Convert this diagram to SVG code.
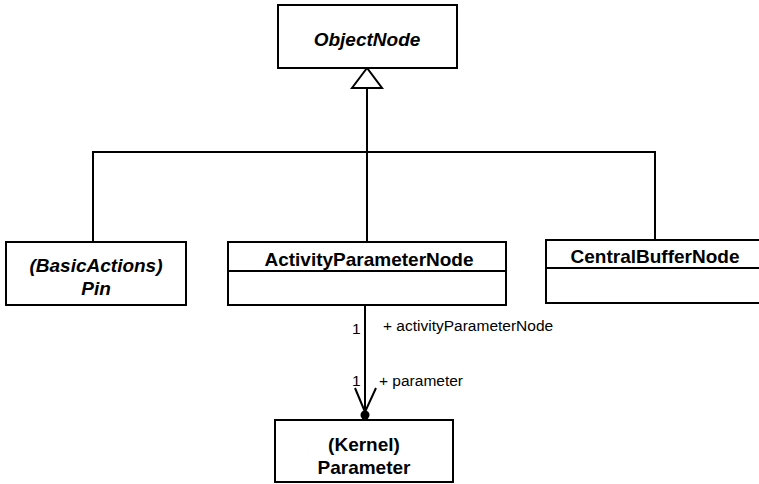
<svg xmlns="http://www.w3.org/2000/svg" width="759" height="484" viewBox="0 0 759 484">
<style>
.box{fill:#fff;stroke:#000;stroke-width:2}
.ln{fill:none;stroke:#000;stroke-width:2}
.t{font-family:"Liberation Sans",Arial,sans-serif;font-weight:bold;font-size:19px;text-anchor:middle;fill:#000}
.i{font-style:italic}
.s{font-family:"Liberation Sans",Arial,sans-serif;font-size:15.5px;fill:#000}
</style>
<g id="connectors">
<polyline class="ln" points="93,242 93,152 655,152 655,240"/>
<line class="ln" x1="367" y1="88" x2="367" y2="242"/>
<polygon points="367,68 352,88 382,88" fill="#fff" stroke="#000" stroke-width="2"/>
<line class="ln" x1="365" y1="305" x2="365" y2="415"/>
<polyline class="ln" points="355,388 365,412 376,388"/>
<circle cx="365" cy="415" r="4.5" fill="#000"/>
<text class="s" x="352" y="334">1</text>
<text class="s" x="383" y="331">+ activityParameterNode</text>
<text class="s" x="352" y="386">1</text>
<text class="s" x="379" y="386">+ parameter</text>
</g>
<g id="ObjectNode">
<rect class="box" x="278" y="5" width="179" height="63"/>
<text class="t i" x="367" y="46">ObjectNode</text>
</g>
<g id="Pin">
<rect class="box" x="6" y="242" width="180" height="63"/>
<text class="t i" x="96" y="272">(BasicActions)</text>
<text class="t i" x="96" y="295">Pin</text>
</g>
<g id="ActivityParameterNode">
<rect class="box" x="228" y="242" width="278" height="63"/>
<line class="ln" x1="228" y1="271" x2="507" y2="271"/>
<text class="t" x="369" y="266">ActivityParameterNode</text>
</g>
<g id="CentralBufferNode">
<rect class="box" x="546" y="240" width="220" height="63"/>
<line class="ln" x1="546" y1="268" x2="759" y2="268"/>
<text class="t" x="655" y="263">CentralBufferNode</text>
</g>
<g id="Parameter">
<rect class="box" x="275" y="420" width="178" height="62"/>
<text class="t" x="364" y="451">(Kernel)</text>
<text class="t" x="364" y="474">Parameter</text>
</g>
</svg>
